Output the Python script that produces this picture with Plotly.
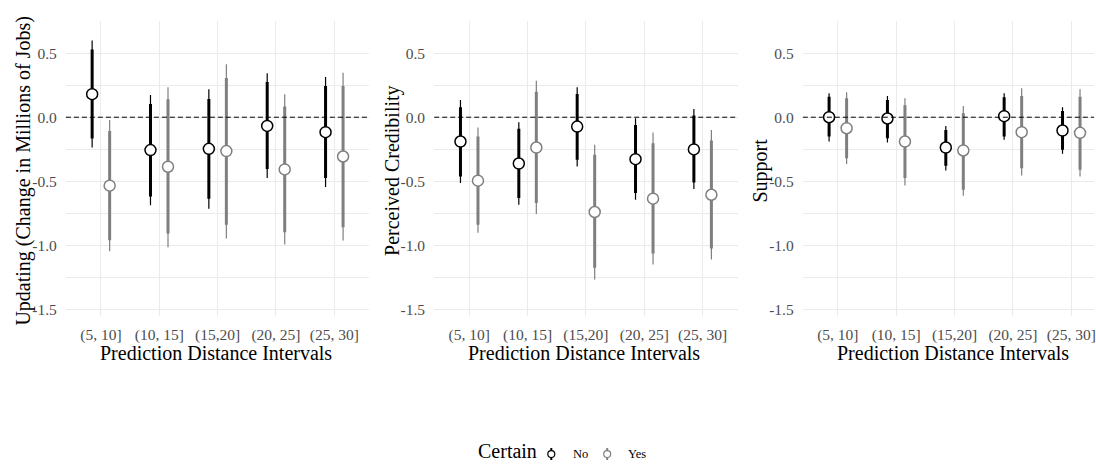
import plotly.graph_objects as go

W, H = 1096, 464

categories = ["(5, 10]", "(10, 15]", "(15,20]", "(20, 25]", "(25, 30]"]
groups = ["No", "Yes"]
panel_titles = ["Updating (Change in Millions of Jobs)", "Perceived Credibility", "Support"]
x_title = "Prediction Distance Intervals"
legend_title = "Certain"
y_tickvals = [-1.5, -1.0, -0.5, 0.0, 0.5]
y_ticktext = ["-1.5", "-1.0", "-0.5", "0.0", "0.5"]
reference_value = 0.0

# ---- Updating ----
upd_no_est = [0.18, -0.257, -0.247, -0.068, -0.117]
upd_no_lo_thick = [-0.167, -0.619, -0.637, -0.405, -0.475]
upd_no_hi_thick = [0.53, 0.104, 0.143, 0.275, 0.244]
upd_no_lo_thin = [-0.237, -0.689, -0.715, -0.475, -0.546]
upd_no_hi_thin = [0.60, 0.174, 0.218, 0.343, 0.314]
upd_yes_est = [-0.535, -0.387, -0.265, -0.408, -0.307]
upd_yes_lo_thick = [-0.962, -0.91, -0.84, -0.899, -0.86]
upd_yes_hi_thick = [-0.107, 0.14, 0.306, 0.083, 0.244]
upd_yes_lo_thin = [-1.047, -1.016, -0.949, -0.995, -0.964]
upd_yes_hi_thin = [-0.021, 0.234, 0.415, 0.179, 0.348]

# ---- Perceived Credibility ----
cred_no_est = [-0.19, -0.362, -0.073, -0.328, -0.252]
cred_no_lo_thick = [-0.463, -0.631, -0.333, -0.593, -0.51]
cred_no_hi_thick = [0.078, -0.091, 0.182, -0.06, 0.013]
cred_no_lo_thin = [-0.514, -0.684, -0.385, -0.645, -0.561]
cred_no_hi_thin = [0.135, -0.039, 0.234, -0.008, 0.065]
cred_yes_est = [-0.496, -0.237, -0.741, -0.637, -0.606]
cred_yes_lo_thick = [-0.84, -0.67, -1.177, -1.066, -1.027]
cred_yes_hi_thick = [-0.151, 0.2, -0.294, -0.203, -0.182]
cred_yes_lo_thin = [-0.904, -0.756, -1.268, -1.151, -1.112]
cred_yes_hi_thin = [-0.081, 0.285, -0.216, -0.12, -0.099]

# ---- Support ----
sup_no_est = [0.0, -0.01, -0.237, 0.008, -0.104]
sup_no_lo_thick = [-0.151, -0.164, -0.38, -0.151, -0.255]
sup_no_hi_thick = [0.16, 0.135, -0.099, 0.156, 0.049]
sup_no_lo_thin = [-0.19, -0.198, -0.416, -0.177, -0.286]
sup_no_hi_thin = [0.187, 0.166, -0.068, 0.187, 0.078]
sup_yes_est = [-0.086, -0.19, -0.26, -0.117, -0.122]
sup_yes_lo_thick = [-0.32, -0.475, -0.567, -0.398, -0.411]
sup_yes_hi_thick = [0.148, 0.094, 0.031, 0.166, 0.16]
sup_yes_lo_thin = [-0.366, -0.533, -0.613, -0.455, -0.463]
sup_yes_hi_thin = [0.195, 0.148, 0.088, 0.226, 0.218]

panels = [
    {
        "No": (upd_no_est, upd_no_lo_thick, upd_no_hi_thick, upd_no_lo_thin, upd_no_hi_thin),
        "Yes": (upd_yes_est, upd_yes_lo_thick, upd_yes_hi_thick, upd_yes_lo_thin, upd_yes_hi_thin),
    },
    {
        "No": (cred_no_est, cred_no_lo_thick, cred_no_hi_thick, cred_no_lo_thin, cred_no_hi_thin),
        "Yes": (cred_yes_est, cred_yes_lo_thick, cred_yes_hi_thick, cred_yes_lo_thin, cred_yes_hi_thin),
    },
    {
        "No": (sup_no_est, sup_no_lo_thick, sup_no_hi_thick, sup_no_lo_thin, sup_no_hi_thin),
        "Yes": (sup_yes_est, sup_yes_lo_thick, sup_yes_hi_thick, sup_yes_lo_thin, sup_yes_hi_thin),
    },
]

colors = {"No": "#000000", "Yes": "#7f7f7f"}
dodge = {"No": -0.15, "Yes": 0.15}

FONT = "Liberation Serif"
TICK_COLOR = "#4d4d4d"
GRID = "#ebebeb"

# layout geometry (pixels)
unit = 304.0 / 5.2
panel_left = [66.0, 435.0, 804.3]
plot_top, plot_bottom = 20.7, 316.8
y_range = [-1.555, 0.755]


def px(x):
    return x / W


def py(y):
    return 1 - y / H


fig = go.Figure()

for p, pdata in enumerate(panels):
    ax = "" if p == 0 else str(p + 1)
    xref, yref = "x" + ax, "y" + ax
    for g in groups:
        est, lo_k, hi_k, lo_n, hi_n = pdata[g]
        xs = [i + 1 + dodge[g] for i in range(len(categories))]
        # thin (outer) interval
        tx, ty = [], []
        for x, lo, hi in zip(xs, lo_n, hi_n):
            tx += [x, x, None]
            ty += [lo, hi, None]
        fig.add_trace(go.Scatter(x=tx, y=ty, mode="lines", xaxis=xref, yaxis=yref,
                                 line=dict(color=colors[g], width=1.2), showlegend=False,
                                 hoverinfo="skip"))
        # thick (inner) interval
        kx, ky = [], []
        for x, lo, hi in zip(xs, lo_k, hi_k):
            kx += [x, x, None]
            ky += [lo, hi, None]
        fig.add_trace(go.Scatter(x=kx, y=ky, mode="lines", xaxis=xref, yaxis=yref,
                                 line=dict(color=colors[g], width=3), showlegend=False,
                                 hoverinfo="skip"))
        # point estimate
        fig.add_trace(go.Scatter(x=xs, y=est, mode="markers", xaxis=xref, yaxis=yref,
                                 marker=dict(symbol="circle", size=11, color="white",
                                             line=dict(color=colors[g], width=1.5)),
                                 showlegend=False, name=g))

    right = panel_left[p] + 5.2 * unit
    x_end = 5.6
    if right > W:
        right = W
        x_end = 0.4 + (W - panel_left[p]) / unit
    axis_common = dict(showline=False, zeroline=False, gridcolor=GRID, gridwidth=1,
                       tickfont=dict(family=FONT, size=15.5, color=TICK_COLOR),
                       ticks="outside", tickcolor="rgba(0,0,0,0)",
                       ticklabeloverflow="allow")
    fig.update_layout(**{
        "xaxis" + ax: dict(domain=[px(panel_left[p]), px(right)], range=[0.4, x_end],
                           tickvals=list(range(1, len(categories) + 1)), ticktext=categories,
                           anchor="y" + ax, ticklen=4, **axis_common),
        "yaxis" + ax: dict(domain=[py(plot_bottom), py(plot_top)], range=y_range,
                           tickvals=y_tickvals, ticktext=y_ticktext, anchor="x" + ax,
                           ticklen=5,
                           minor=dict(dtick=0.25, tick0=0, showgrid=True, gridcolor=GRID,
                                      gridwidth=0.5, ticks=""),
                           **axis_common),
    })
    # dashed reference line at 0 (drawn above the points, as in the reference)
    fig.add_shape(type="line", xref="x" + ax + " domain", yref="y" + ax, x0=0, x1=1,
                  y0=reference_value, y1=reference_value,
                  line=dict(color="black", width=1, dash="5px,3px"), layer="above")
    # x title
    fig.add_annotation(text=x_title, xref="paper", yref="paper",
                       x=px(panel_left[p] + 2.6 * unit - 1.5), y=py(354), xanchor="center",
                       yanchor="middle", showarrow=False,
                       font=dict(family=FONT, size=20, color="black"))
    # y title
    fig.add_annotation(text=panel_titles[p], xref="paper", yref="paper",
                       x=px(panel_left[p] - 42), y=py(171), xanchor="center", yanchor="middle",
                       textangle=-90, showarrow=False,
                       font=dict(family=FONT, size=20, color="black"))

# legend (manual)
fig.add_annotation(text=legend_title, xref="paper", yref="paper", x=px(508), y=py(465),
                   xanchor="center", yanchor="bottom", showarrow=False,
                   font=dict(family=FONT, size=20, color="black"))
for g, gx, lx in [("No", 552.3, 571.7), ("Yes", 608.3, 627.3)]:
    fig.add_shape(type="line", xref="paper", yref="paper", x0=px(gx), x1=px(gx),
                  y0=py(449), y1=py(461), line=dict(color=colors[g], width=2))
    fig.add_shape(type="circle", xref="paper", yref="paper", x0=px(gx - 3.5), x1=px(gx + 3.5),
                  y0=py(458.5), y1=py(451.5), fillcolor="white",
                  line=dict(color=colors[g], width=1.2))
    fig.add_annotation(text=g, xref="paper", yref="paper", x=px(lx), y=py(455),
                       xanchor="left", yanchor="middle", showarrow=False,
                       font=dict(family=FONT, size=12.5, color="black"))

fig.update_layout(width=W, height=H, margin=dict(l=0, r=0, t=0, b=0),
                  paper_bgcolor="white", plot_bgcolor="white", showlegend=False,
                  font=dict(family=FONT))

fig.write_html("out.html")
